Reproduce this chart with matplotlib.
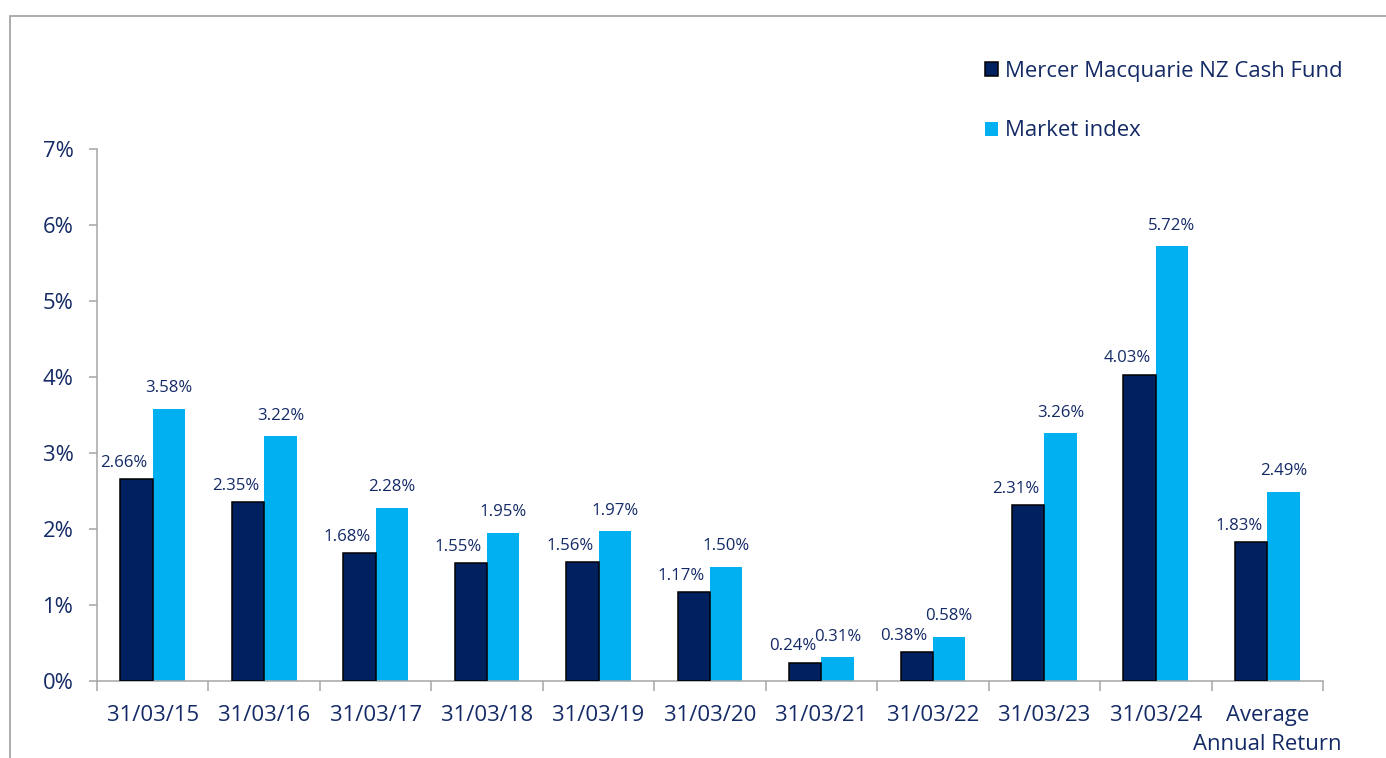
import matplotlib
matplotlib.use("Agg")
import matplotlib.pyplot as plt
from matplotlib.patches import Rectangle, Patch
import numpy as np

plt.rcParams['font.family'] = ['Open Sans', 'DejaVu Sans']

categories = ["31/03/15", "31/03/16", "31/03/17", "31/03/18", "31/03/19",
              "31/03/20", "31/03/21", "31/03/22", "31/03/23", "31/03/24",
              "Average\nAnnual Return"]
fund = [2.66, 2.35, 1.68, 1.55, 1.56, 1.17, 0.24, 0.38, 2.31, 4.03, 1.83]
market = [3.58, 3.22, 2.28, 1.95, 1.97, 1.50, 0.31, 0.58, 3.26, 5.72, 2.49]
yticks = [0, 1, 2, 3, 4, 5, 6, 7]
series_names = ["Mercer Macquarie NZ Cash Fund", "Market index"]

NAVY = '#002060'
CYAN = '#00B0F0'
TXT = '#142A66'
GREY = '#A6A6A6'

fig = plt.figure(figsize=(13.86, 7.58), dpi=100)
ax = fig.add_axes([97/1386, 1-681/758, (1323-97)/1386, (681-149)/758])

x = np.arange(len(categories))
w = 0.29
b1 = ax.bar(x - w/2, fund, w, color=NAVY, edgecolor='black', linewidth=1.1, zorder=3)
b2 = ax.bar(x + w/2, market, w, color=CYAN, edgecolor='none', zorder=2)

for xi, v in zip(x, fund):
    ax.annotate(f"{v:.2f}%", (xi - w/2, v), xytext=(-9, 6), textcoords='offset points',
                ha='center', va='bottom', fontsize=12.1, color=TXT)
for xi, v in zip(x, market):
    ax.annotate(f"{v:.2f}%", (xi + w/2, v), xytext=(0, 9), textcoords='offset points',
                ha='center', va='bottom', fontsize=12.1, color=TXT)

ax.set_xlim(-0.5, len(categories) - 0.5)
ax.set_ylim(0, 7)
ax.set_yticks(yticks)
ax.set_yticklabels([f"{t}%" for t in yticks])
ax.set_xticks(x)
ax.set_xticklabels(categories, linespacing=1.45)
ax.set_xticks(np.arange(-0.5, len(categories)), minor=True)

for s in ['top', 'right']:
    ax.spines[s].set_visible(False)
for s in ['left', 'bottom']:
    ax.spines[s].set_color(GREY)
    ax.spines[s].set_linewidth(1.1)

ax.tick_params(axis='y', direction='out', length=6, width=1.1, color=GREY,
               labelsize=15.8, labelcolor=TXT, pad=11)
ax.tick_params(axis='x', which='major', length=0, labelsize=15.9, labelcolor=TXT, pad=17.5)
ax.tick_params(axis='x', which='minor', direction='out', length=7, width=1.1, color=GREY)

handles = [Patch(facecolor=NAVY, edgecolor='black', linewidth=1.1),
           Patch(facecolor=CYAN, edgecolor='none')]
leg = fig.legend(handles, series_names, loc='upper left',
                 bbox_to_anchor=(976/1386, 1-52/758), frameon=False,
                 fontsize=15.9, handlelength=0.6, handleheight=0.6,
                 handletextpad=0.3, labelspacing=1.75, borderaxespad=0)
for t in leg.get_texts():
    t.set_color(TXT)

fig.patches.append(Rectangle((10/1386, -0.1), 1.2, 1 - 16/758 + 0.1,
                             transform=fig.transFigure, fill=False,
                             edgecolor=GREY, linewidth=1.3, zorder=0))

fig.savefig("out.png", dpi=100)
